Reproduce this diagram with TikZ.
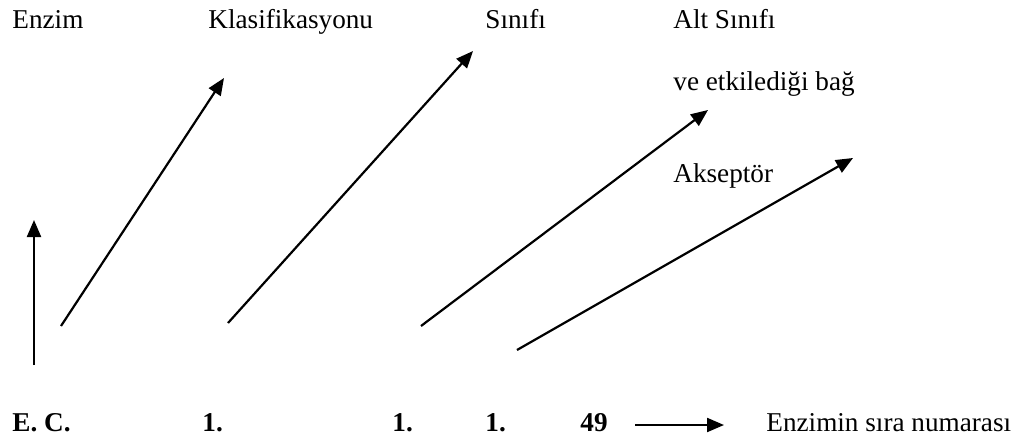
\documentclass[tikz,border=0pt]{standalone}
\usepackage{fontspec}
\setmainfont{Liberation Serif}
\usetikzlibrary{positioning,arrows.meta}

\begin{document}
\begin{tikzpicture}[
  x=0.5pt, y=-0.5pt,
  lbl/.style={inner sep=0pt, anchor=base west, font=\fontsize{13.6}{16}\selectfont},
  num/.style={lbl, font=\fontsize{13.6}{16}\selectfont\bfseries},
  pointer/.style={-{Triangle[length=8.5pt,width=7pt]}, line width=1.1pt},
  >=Stealth
]
  \useasboundingbox (0,0) rectangle (1011,439);

  % top row
  \node[lbl] (enzim) at (12,28) {Enzim};
  \node[lbl] (klas)  at (208,28) {Klasifikasyonu};
  \node[lbl] (sinif) at (485,28) {Sınıfı};
  \node[lbl] (alt)   at (673,28) {Alt Sınıfı};
  \node[lbl] (bag)   at (673,90) {ve etkilediği bağ};
  \node[lbl] (aksep) at (673,182) {Akseptör};

  % E.C. number
  \node[num] (ec)   at (12,431) {E. C.};
  \node[num] (n1)   at (202,431) {1.};
  \node[num] (n2)   at (392,431) {1.};
  \node[num] (n3)   at (485,431) {1.};
  \node[num] (n49)  at (580,431) {49};
  \node[lbl] (sira) at (766,431) {Enzimin sıra numarası};

  \coordinate (p1) at (34,365);  \coordinate (q1) at (34,220);
  \coordinate (p2) at (61,326);  \coordinate (q2) at (224,78);
  \coordinate (p3) at (228,323); \coordinate (q3) at (473,51);
  \coordinate (p4) at (421,326); \coordinate (q4) at (708,110);
  \coordinate (p5) at (517,350); \coordinate (q5) at (853,158);
  \coordinate (p6) at (635,425); \coordinate (q6) at (724,425);

  \draw[pointer] (p1) -- (q1);
  \draw[pointer] (p2) -- (q2);
  \draw[pointer] (p3) -- (q3);
  \draw[pointer] (p4) -- (q4);
  \draw[pointer] (p5) -- (q5);
  \draw[pointer] (p6) -- (q6);
\end{tikzpicture}
\end{document}
